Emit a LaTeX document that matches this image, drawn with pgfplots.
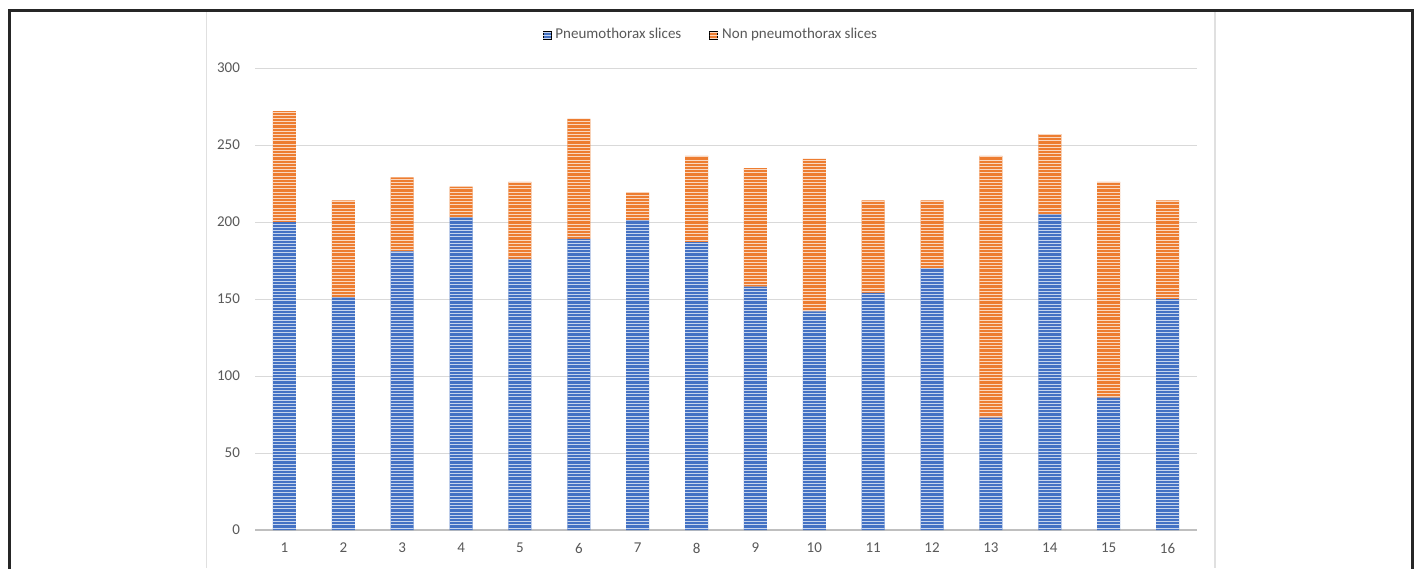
\documentclass[border=0pt]{standalone}
\usepackage{pgfplots}
\pgfplotsset{compat=1.18}
\usepackage{fontspec}
\setmainfont{Carlito}
\usetikzlibrary{patterns}
\definecolor{pblue}{HTML}{4472C4}
\definecolor{porange}{HTML}{ED7D31}
\definecolor{tickgray}{HTML}{595959}
\definecolor{gridgray}{HTML}{D9D9D9}
\definecolor{axgray}{HTML}{BFBFBF}
\definecolor{framegray}{HTML}{E0E0E0}
\pgfdeclarepatternformonly{finehlines}{\pgfpoint{-0.1pt}{0pt}}{\pgfpoint{2.1pt}{1.6pt}}{\pgfpoint{2pt}{1.6pt}}{%
  \pgfsetlinewidth{0.45pt}%
  \pgfpathmoveto{\pgfpoint{-0.1pt}{0.8pt}}%
  \pgfpathlineto{\pgfpoint{2.1pt}{0.8pt}}%
  \pgfusepath{stroke}%
}
\begin{document}
\begin{tikzpicture}
\useasboundingbox (0pt,0pt) rectangle (709pt,284pt);
\fill[white] (0pt,0pt) rectangle (709pt,284pt);
\draw[framegray, line width=0.75pt] (103.25pt,0pt) -- (103.25pt,278.75pt);
\draw[framegray, line width=0.75pt] (607.5pt,0pt) -- (607.5pt,278.75pt);
\draw[black!85, line width=1.5pt] (4.75pt,-3pt) -- (4.75pt,278.75pt) -- (706pt,278.75pt) -- (706pt,-3pt);
\begin{axis}[
  at={(127.5pt,19pt)}, anchor=south west,
  scale only axis, width=471pt, height=231pt,
  ybar stacked, bar width=11.5pt,
  xmin=0.5, xmax=16.5, ymin=0, ymax=300,
  xtick={1,...,16}, ytick={0,50,...,300},
  ymajorgrids, grid style={gridgray, line width=0.5pt},
  axis lines*=left,
  y axis line style={draw=none},
  x axis line style={axgray, line width=1pt},
  major tick length=0pt,
  tick label style={font=\fontsize{7.5}{9}\selectfont, text=tickgray},
  yticklabel style={xshift=-4pt},
  xticklabel style={yshift=-3pt},
  /pgf/number format/assume math mode=true,
  legend style={at={(0.485,1.071)}, anchor=center, draw=none, fill=none,
    legend columns=2, font=\fontsize{7.5}{9}\selectfont, text=tickgray,
    /tikz/every even column/.append style={column sep=12pt}},
  legend cell align=left,
  legend image code/.code={\draw[#1] (0pt,-2pt) rectangle (4pt,2pt);},
]
\addplot[draw=none, fill=pblue, postaction={pattern=finehlines, pattern color=pblue!30!white}] coordinates {
(1,200) (2,151) (3,181) (4,203) (5,176) (6,189) (7,201) (8,187)
(9,158) (10,142) (11,154) (12,170) (13,73) (14,205) (15,86) (16,150)};
\addlegendentry{Pneumothorax slices}
\addplot[draw=none, fill=porange, postaction={pattern=finehlines, pattern color=porange!30!white}] coordinates {
(1,72) (2,63) (3,48) (4,20) (5,50) (6,78) (7,18) (8,56)
(9,77) (10,99) (11,60) (12,44) (13,170) (14,52) (15,140) (16,64)};
\addlegendentry{Non pneumothorax slices}
\end{axis}
\end{tikzpicture}
\end{document}
